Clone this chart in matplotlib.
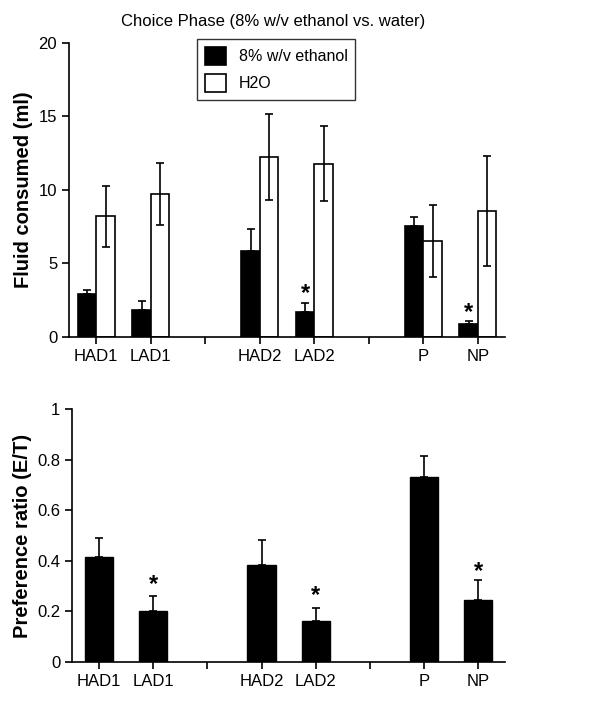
import numpy as np
import matplotlib

matplotlib.use("Agg")
import matplotlib.pyplot as plt

plt.rcParams["font.family"] = ["Liberation Sans", "DejaVu Sans"]

# group labels and x positions (3 and 6 are unlabeled separator ticks)
groups = ["HAD1", "LAD1", "HAD2", "LAD2", "P", "NP"]
pos = [1, 2, 4, 5, 7, 8]

# top panel: fluid consumed (ml)
etoh_mean = [2.9, 1.86, 5.83, 1.7, 7.55, 0.91]
etoh_err = [0.27, 0.59, 1.54, 0.61, 0.64, 0.18]
water_mean = [8.2, 9.73, 12.24, 11.8, 6.51, 8.57]
water_err = [2.1, 2.1, 2.95, 2.55, 2.45, 3.72]
top_star = {"LAD2": 2.93, "NP": 1.7}

# bottom panel: preference ratio
pref_mean = [0.414, 0.202, 0.385, 0.162, 0.732, 0.247]
pref_err = [0.078, 0.059, 0.099, 0.052, 0.082, 0.076]
bottom_star = {"LAD1": 0.307, "LAD2": 0.264, "NP": 0.357}

fig = plt.figure(figsize=(6, 7.07), dpi=100)
ax1 = fig.add_axes([0.115, 0.5233, 0.727, 0.416])
ax2 = fig.add_axes([0.12, 0.0636, 0.722, 0.358])

w = 0.34
x = np.array(pos)
ax1.bar(x - w / 2, etoh_mean, w, color="black", edgecolor="black", lw=1.2,
        label="8% w/v ethanol", zorder=2)
ax1.errorbar(x - w / 2, etoh_mean, yerr=[np.zeros(6), etoh_err], fmt="none",
             ecolor="black", elinewidth=1.2, capsize=3, capthick=1.2, zorder=1)
ax1.bar(x + w / 2, water_mean, w, color="white", edgecolor="black", lw=1.2,
        label="H2O", zorder=2)
ax1.errorbar(x + w / 2, water_mean, yerr=water_err, fmt="none",
             ecolor="black", elinewidth=1.2, capsize=3, capthick=1.2, zorder=3)
for g, yv in top_star.items():
    i = groups.index(g)
    ax1.text(pos[i] - w / 2, yv, "*", ha="center", va="center",
             fontsize=17, fontweight="bold")

ax1.set_ylim(0, 20)
ax1.set_yticks([0, 5, 10, 15, 20])
ax1.set_ylabel("Fluid consumed (ml)", fontsize=14.5, fontweight="bold")
ax1.set_title("Choice Phase (8% w/v ethanol vs. water)", fontsize=12,
              x=0.468, pad=12)
leg = ax1.legend(loc="upper center", bbox_to_anchor=(0.475, 1.04),
                 fontsize=11.5, frameon=True, fancybox=False, edgecolor="black",
                 handlelength=1.3, handleheight=1.3, borderpad=0.5,
                 labelspacing=0.6)
leg.get_frame().set_linewidth(1.0)

ax2.bar(x, pref_mean, 0.52, color="black", edgecolor="black", zorder=2)
ax2.errorbar(x, pref_mean, yerr=[np.zeros(6), pref_err], fmt="none",
             ecolor="black", elinewidth=1.2, capsize=3, capthick=1.2, zorder=1)
for g, yv in bottom_star.items():
    i = groups.index(g)
    ax2.text(pos[i], yv, "*", ha="center", va="center",
             fontsize=17, fontweight="bold")
ax2.set_ylim(0, 1)
ax2.set_yticks([0, 0.2, 0.4, 0.6, 0.8, 1])
ax2.set_yticklabels(["0", "0.2", "0.4", "0.6", "0.8", "1"])
ax2.set_ylabel("Preference ratio (E/T)", fontsize=14.5, fontweight="bold")

for ax in (ax1, ax2):
    ax.set_xlim(0.5, 8.5)
    ax.set_xticks([1, 2, 3, 4, 5, 6, 7, 8])
    ax.set_xticklabels(["HAD1", "LAD1", "", "HAD2", "LAD2", "", "P", "NP"])
    ax.spines["top"].set_visible(False)
    ax.spines["right"].set_visible(False)
    ax.spines["left"].set_linewidth(1.2)
    ax.spines["bottom"].set_linewidth(1.2)
    ax.tick_params(direction="out", length=5, width=1.2, labelsize=12)

fig.savefig("out.png", dpi=100)
